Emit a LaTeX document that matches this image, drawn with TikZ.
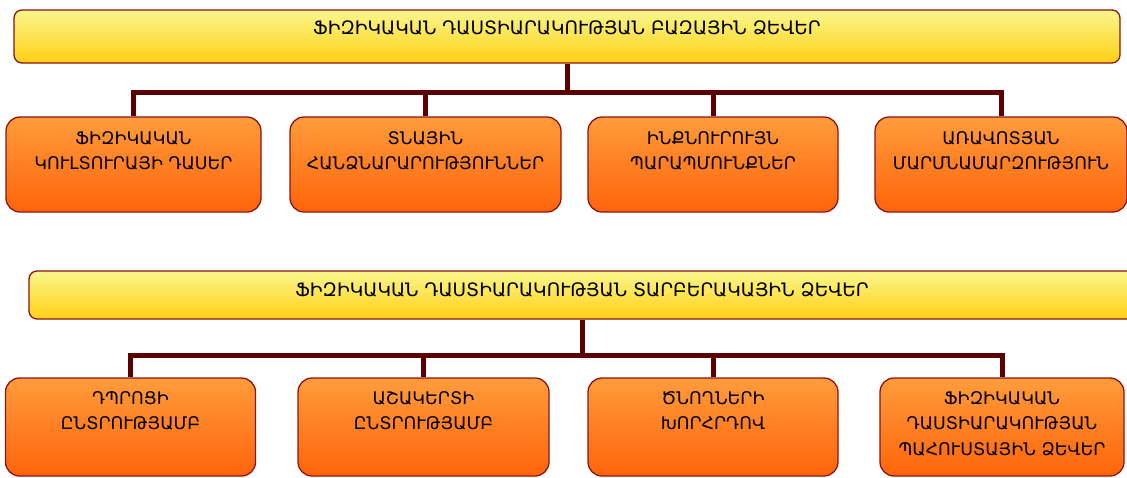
\documentclass[tikz,border=0pt]{standalone}
\usepackage{fontspec}
\setmainfont{DejaVu Sans}
\usetikzlibrary{positioning}
\definecolor{frame}{RGB}{140,20,20}
\definecolor{linkc}{RGB}{90,0,0}
\definecolor{ytop}{RGB}{250,246,140}
\definecolor{ybot}{RGB}{255,208,20}
\definecolor{otop}{RGB}{255,156,60}
\definecolor{obot}{RGB}{255,100,10}
\tikzset{
  headbox/.style={draw=frame,line width=1.3pt,rounded corners=8pt,top color=ytop,bottom color=ybot,inner sep=0pt},
  formbox/.style={draw=frame,line width=1.3pt,rounded corners=14pt,top color=otop,bottom color=obot,inner sep=0pt},
  link/.style={draw=linkc,line width=5pt},
  headtext/.style={inner sep=0pt,font=\fontsize{18.5}{20}\selectfont},
  boxtext/.style={align=center,inner sep=0pt,anchor=north,font=\fontsize{17.4}{25.5}\selectfont},
}

\begin{document}
\begin{tikzpicture}[x=1pt,y=-1pt]
    \useasboundingbox (0,0) rectangle (1127,477);
    % basic forms
      \node[headbox,minimum width=1106pt,minimum height=53pt] (h1) at (567,36.5) {};
      \node[headtext] (h1t) at (567,27.5) {ՖԻԶԻԿԱԿԱՆ ԴԱՍՏԻԱՐԱԿՈՒԹՅԱՆ ԲԱԶԱՅԻՆ ՁԵՎԵՐ};
      \coordinate (j1) at (567,92);

      \node[formbox,minimum width=255pt,minimum height=95pt] (f1) at (133.5,164.5) {};
      \node[formbox,minimum width=271pt,minimum height=95pt] (f2) at (425.5,164.5) {};
      \node[formbox,minimum width=250pt,minimum height=95pt] (f3) at (713,164.5) {};
      \node[formbox,minimum width=252pt,minimum height=95pt] (f4) at (1001,164.5) {};
      \node[boxtext] (f1t) at ([yshift=-15pt]f1.north) {ՖԻԶԻԿԱԿԱՆ\\ԿՈՒԼՏՈՒՐԱՅԻ ԴԱՍԵՐ};
      \node[boxtext] (f2t) at ([yshift=-15pt]f2.north) {ՏՆԱՅԻՆ\\ՀԱՆՁՆԱՐԱՐՈՒԹՅՈՒՆՆԵՐ};
      \node[boxtext] (f3t) at ([yshift=-15pt]f3.north) {ԻՆՔՆՈՒՐՈՒՅՆ\\ՊԱՐԱՊՄՈՒՆՔՆԵՐ};
      \node[boxtext] (f4t) at ([yshift=-15pt]f4.north) {ԱՌԱՎՈՏՅԱՆ\\ՄԱՐՄՆԱՄԱՐԶՈՒԹՅՈՒՆ};

      \draw[link] (h1.south) -- (j1);
      \draw[link] (f1.north) |- (j1);
      \draw[link] (f2.north) |- (j1);
      \draw[link] (f3.north) |- (j1);
      \draw[link] (f4.north) |- (j1);

    % variant forms
      \node[headbox,minimum width=1111pt,minimum height=48pt] (h2) at (584.5,295) {};
      \node[headtext] (h2t) at (582,289.5) {ՖԻԶԻԿԱԿԱՆ ԴԱՍՏԻԱՐԱԿՈՒԹՅԱՆ ՏԱՐԲԵՐԱԿԱՅԻՆ ՁԵՎԵՐ};
      \coordinate (j2) at (582,355);

      \node[formbox,minimum width=250pt,minimum height=98pt] (v1) at (130.5,427) {};
      \node[formbox,minimum width=251pt,minimum height=98pt] (v2) at (423.5,427) {};
      \node[formbox,minimum width=250pt,minimum height=98pt] (v3) at (713,427) {};
      \node[formbox,minimum width=244pt,minimum height=98pt] (v4) at (1002,427) {};
      \node[boxtext] (v1t) at ([yshift=-14pt]v1.north) {ԴՊՐՈՑԻ\\ԸՆՏՐՈՒԹՅԱՄԲ};
      \node[boxtext] (v2t) at ([yshift=-14pt]v2.north) {ԱՇԱԿԵՐՏԻ\\ԸՆՏՐՈՒԹՅԱՄԲ};
      \node[boxtext] (v3t) at ([yshift=-14pt]v3.north) {ԾՆՈՂՆԵՐԻ\\ԽՈՐՀՐԴՈՎ};
      \node[boxtext] (v4t) at ([yshift=-14pt]v4.north) {ՖԻԶԻԿԱԿԱՆ\\ԴԱՍՏԻԱՐԱԿՈՒԹՅԱՆ\\ՊԱՀՈՒՍՏԱՅԻՆ ՁԵՎԵՐ};

      \draw[link] (j2 |- h2.south) -- (j2);
      \draw[link] (v1.north) |- (j2);
      \draw[link] (v2.north) |- (j2);
      \draw[link] (v3.north) |- (j2);
      \draw[link] (v4.north) |- (j2);
\end{tikzpicture}
\end{document}
